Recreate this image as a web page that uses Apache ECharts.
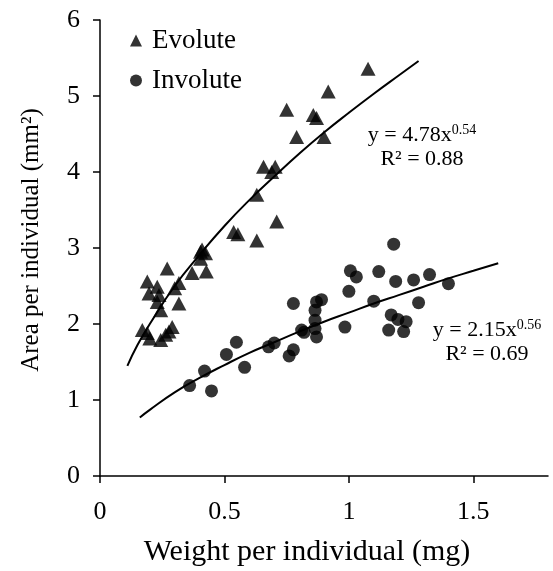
<!DOCTYPE html>
<html>
<head>
<meta charset="utf-8">
<script src="https://cdn.jsdelivr.net/npm/echarts@6/dist/echarts.min.js"></script>
<style>html,body{margin:0;padding:0;background:#fff;}#c{width:553px;height:571px;}</style>
</head>
<body>
<div id="c"></div>
<script>
// Evolute points [weight, area]
const evoluteX = [1.077,0.917,0.75,0.857,0.87,0.79,0.90,0.657,0.704,0.69,0.63,0.71,0.537,0.554,0.63,0.404,0.424,0.404,0.27,0.37,0.427,0.19,0.23,0.317,0.30,0.197,0.237,0.317,0.23,0.244,0.29,0.17,0.19,0.20,0.264,0.244,0.277,0.41];
const evoluteY = [5.36,5.06,4.82,4.75,4.71,4.46,4.46,4.07,4.07,4.00,3.70,3.35,3.21,3.18,3.10,2.95,2.93,2.86,2.73,2.67,2.69,2.56,2.49,2.54,2.47,2.40,2.38,2.27,2.29,2.18,1.96,1.92,1.88,1.81,1.86,1.79,1.90,2.98];
// Involute points
const involuteX = [0.777,0.87,0.864,0.864,0.864,0.87,0.81,0.82,0.677,0.70,0.777,0.76,0.548,0.508,0.581,0.42,0.36,0.448,1.18,1.006,1.03,1.12,1.188,1.26,1.324,1.0,1.10,1.28,0.89,1.17,1.197,1.23,0.984,1.16,1.22,1.40];
const involuteY = [2.27,2.29,2.18,2.05,1.94,1.83,1.92,1.89,1.70,1.75,1.66,1.58,1.76,1.60,1.43,1.38,1.19,1.12,3.05,2.70,2.62,2.69,2.56,2.58,2.65,2.43,2.30,2.28,2.32,2.12,2.06,2.03,1.96,1.92,1.90,2.53];
// Fitted power curves
const evoFitX = [0.11,0.15,0.2,0.3,0.4,0.5,0.6,0.7,0.8,0.9,1.0,1.1,1.2,1.28];
const evoFitY = [1.45,1.72,2.00,2.50,2.91,3.29,3.63,3.94,4.24,4.52,4.78,5.03,5.27,5.46];
const invFitX = [0.16,0.2,0.3,0.4,0.5,0.6,0.7,0.8,0.9,1.0,1.1,1.2,1.3,1.4,1.5,1.6];
const invFitY = [0.77,0.87,1.10,1.29,1.46,1.62,1.76,1.90,2.03,2.15,2.27,2.38,2.49,2.60,2.70,2.80];
const xTicks = [0,0.5,1,1.5];
const seriesNames = ['Evolute','Involute'];

const zip = (a,b)=>a.map((v,i)=>[v,b[i]]);
const FONT = 'Liberation Serif';
const richEq = {b:{fontFamily:FONT,fontSize:22,color:'#000',lineHeight:24},s:{fontFamily:FONT,fontSize:14,color:'#000',verticalAlign:'top',lineHeight:24}};
const chart = echarts.init(document.getElementById('c'));
chart.setOption({
  animation:false,
  backgroundColor:'#fff',
  grid:{left:100,right:5,top:20,bottom:95},
  legend:{
    orient:'vertical', left:130, top:27, padding:0, itemGap:13, itemWidth:12, itemHeight:12,
    data:[{name:seriesNames[0],icon:'triangle'},{name:seriesNames[1],icon:'circle'}],
    textStyle:{fontFamily:FONT,fontSize:27,color:'#000',padding:[0,0,0,5]}
  },
  xAxis:{
    type:'value',min:0,max:1.8,interval:0.5,
    axisLine:{lineStyle:{color:'#000',width:1.5}},
    axisTick:{customValues:xTicks,length:7,lineStyle:{color:'#000',width:1.5}},
    axisLabel:{customValues:xTicks,fontFamily:FONT,fontSize:26,color:'#000',margin:23},
    splitLine:{show:false}
  },
  yAxis:{
    type:'value',min:0,max:6,interval:1,
    axisLine:{show:true,lineStyle:{color:'#000',width:1.5}},
    axisTick:{show:true,length:7,lineStyle:{color:'#000',width:1.5}},
    axisLabel:{fontFamily:FONT,fontSize:26,color:'#000',margin:20},
    splitLine:{show:false}
  },
  series:[
    {name:seriesNames[0],type:'scatter',symbol:'triangle',symbolSize:[15,14],itemStyle:{color:'#000'},data:zip(evoluteX,evoluteY)},
    {name:seriesNames[1],type:'scatter',symbol:'circle',symbolSize:13,itemStyle:{color:'#000'},data:zip(involuteX,involuteY)},
    {type:'line',smooth:true,showSymbol:false,symbol:'none',lineStyle:{color:'#000',width:2},data:zip(evoFitX,evoFitY),z:1},
    {type:'line',smooth:true,showSymbol:false,symbol:'none',lineStyle:{color:'#000',width:2},data:zip(invFitX,invFitY),z:1}
  ],
  graphic:[
    {type:'text',x:31,y:240,rotation:Math.PI/2,style:{text:'Area per individual (mm²)',font:'25px "Liberation Serif"',fill:'#000',textAlign:'center',textVerticalAlign:'middle'}},
    {type:'text',x:307,y:552,style:{text:'Weight per individual (mg)',font:'30px "Liberation Serif"',fill:'#000',textAlign:'center',textVerticalAlign:'middle'}},
    {type:'text',x:422,y:135,style:{text:'{b|y = 4.78x}{s|0.54}',textAlign:'center',textVerticalAlign:'middle',rich:richEq}},
    {type:'text',x:422,y:159,style:{text:'R² = 0.88',font:'22px "Liberation Serif"',fill:'#000',textAlign:'center',textVerticalAlign:'middle'}},
    {type:'text',x:487,y:330,style:{text:'{b|y = 2.15x}{s|0.56}',textAlign:'center',textVerticalAlign:'middle',rich:richEq}},
    {type:'text',x:487,y:354,style:{text:'R² = 0.69',font:'22px "Liberation Serif"',fill:'#000',textAlign:'center',textVerticalAlign:'middle'}}
  ]
});
</script>
</body>
</html>
